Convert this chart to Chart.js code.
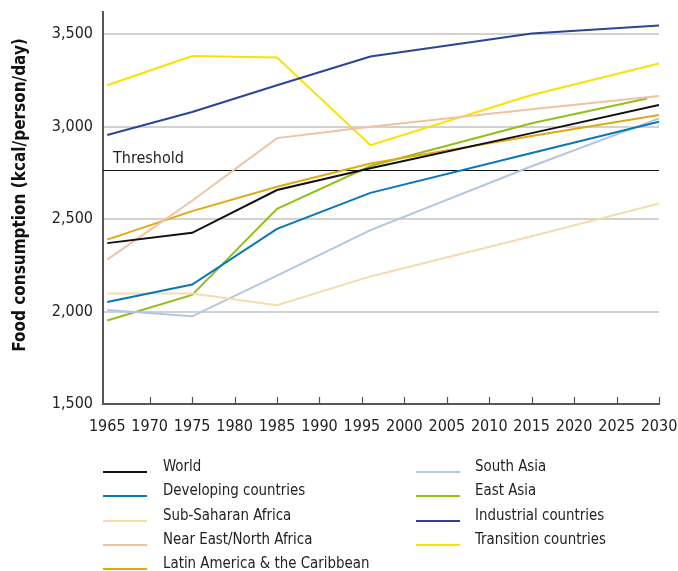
<!DOCTYPE html>
<html>
<head>
<meta charset="utf-8">
<script src="https://cdn.jsdelivr.net/npm/chart.js@4.4.0/dist/chart.umd.min.js"></script>
<style>
  body { margin: 0; background: #fff; font-family: "DejaVu Sans Condensed", "Roboto", sans-serif; }
  #wrap { position: relative; width: 678px; height: 571px; }
  #c { position: absolute; left: 0; top: 0; }
  #legend { position: absolute; left: 0; top: 0; width: 678px; height: 571px; }
  .item { position: absolute; font-size: 16px; color: #222; line-height: 20px; white-space: nowrap; transform: scaleX(0.93); transform-origin: left center; }
  .swatch { position: absolute; width: 44px; height: 0; border-top: 2px solid; }
</style>
</head>
<body>
<div id="wrap">
  <canvas id="c" width="678" height="445"></canvas>
  <div id="legend"></div>
</div>
<script>
var years = [1965, 1975, 1985, 1996, 2015, 2030];
var eastAsiaYears = [1965, 1975, 1985, 1996, 2015, 2028.6];
var xTicks = [1965, 1970, 1975, 1980, 1985, 1990, 1995, 2000, 2005, 2010, 2015, 2020, 2025, 2030];
var yTicks = [1500, 2000, 2500, 3000, 3500];
var threshold = 2765;

var world = [2370, 2426, 2657, 2775, 2965, 3117];
var developing = [2052, 2146, 2447, 2642, 2857, 3027];
var subSaharan = [2097, 2097, 2034, 2190, 2407, 2585];
var nearEast = [2281, 2599, 2938, 3000, 3094, 3166];
var latinAmerica = [2389, 2543, 2675, 2801, 2949, 3063];
var southAsia = [2009, 1974, 2194, 2440, 2786, 3045];
var eastAsia = [1952, 2090, 2556, 2787, 3018, 3152];
var industrial = [2955, 3079, 3224, 3379, 3504, 3547];
var transition = [3224, 3382, 3374, 2900, 3171, 3341];

var names = ["World", "Developing countries", "Sub-Saharan Africa", "Near East/North Africa",
  "Latin America & the Caribbean", "South Asia", "East Asia", "Industrial countries", "Transition countries"];
var colors = ["#111111", "#0a76b6", "#f6dcaa", "#efc2a2", "#e1a812", "#b2c6e4", "#93be1c", "#2b4593", "#f8e300"];
var values = [world, developing, subSaharan, nearEast, latinAmerica, southAsia, eastAsia, industrial, transition];
var xs = [years, years, years, years, years, years, eastAsiaYears, years, years];

var font = "'DejaVu Sans Condensed', Roboto, sans-serif";

function pts(xv, yv) {
  return yv.map(function (v, i) { return { x: xv[i], y: v }; });
}

var datasets = names.map(function (n, i) {
  return {
    label: n,
    data: pts(xs[i], values[i]),
    borderColor: colors[i],
    backgroundColor: colors[i],
    borderWidth: 2,
    pointRadius: 0,
    tension: 0
  };
});

// threshold line, y title and inward ticks on the x axis
var extras = {
  id: "extras",
  beforeDatasetsDraw: function (chart) {
    var ctx = chart.ctx, a = chart.chartArea, y = chart.scales.y.getPixelForValue(threshold);
    ctx.save();
    ctx.strokeStyle = "#111";
    ctx.lineWidth = 1;
    ctx.beginPath();
    ctx.moveTo(a.left, Math.round(y) + 0.5);
    ctx.lineTo(a.right, Math.round(y) + 0.5);
    ctx.stroke();
    ctx.fillStyle = "#222";
    ctx.font = "16px " + font;
    ctx.textBaseline = "bottom";
    ctx.fillText("Threshold", a.left + 10, y - 3);
    ctx.restore();
  },
  afterDraw: function (chart) {
    var ctx = chart.ctx, a = chart.chartArea, sx = chart.scales.x;
    ctx.save();
    ctx.strokeStyle = "#555";
    ctx.lineWidth = 1.2;
    xTicks.forEach(function (t) {
      if (t === 1965) return;
      var x = Math.round(sx.getPixelForValue(t)) + 0.5;
      ctx.beginPath();
      ctx.moveTo(x, a.bottom);
      ctx.lineTo(x, a.bottom - 7);
      ctx.stroke();
    });
    ctx.translate(21, 195);
    ctx.rotate(-Math.PI / 2);
    ctx.fillStyle = "#111";
    ctx.font = "bold 17px " + font;
    ctx.textAlign = "center";
    ctx.textBaseline = "middle";
    ctx.fillText("Food consumption (kcal/person/day)", 0, 0);
    ctx.restore();
  }
};

new Chart("c", {
  type: "line",
  data: { datasets: datasets },
  options: {
    responsive: false,
    animation: false,
    layout: { padding: { top: 12, right: 19, left: 0, bottom: 0 } },
    plugins: { legend: { display: false }, tooltip: { enabled: false } },
    scales: {
      x: {
        type: "linear",
        min: 1964.5,
        max: 2030,
        grid: { display: false },
        border: { color: "#555", width: 2 },
        afterBuildTicks: function (s) { s.ticks = xTicks.map(function (v) { return { value: v }; }); },
        afterFit: function (s) { s.height = 41; s.paddingLeft = 0; s.paddingRight = 0; },
        ticks: {
          autoSkip: false,
          maxRotation: 0,
          padding: 5,
          color: "#222",
          font: { family: font, size: 16 },
          callback: function (v) { return String(v); }
        }
      },
      y: {
        min: 1500,
        max: 3620,
        afterBuildTicks: function (s) { s.ticks = yTicks.map(function (v) { return { value: v }; }); },
        afterFit: function (s) { s.width = 103; s.paddingTop = 0; s.paddingBottom = 0; },
        border: { color: "#555", width: 2 },
        grid: {
          drawTicks: false,
          lineWidth: 2,
          color: function (c) { return c.tick && c.tick.value === 1500 ? "rgba(0,0,0,0)" : "#d2d2d2"; }
        },
        ticks: {
          padding: 10,
          color: "#222",
          font: { family: font, size: 16 },
          callback: function (v) { return v.toLocaleString("en-US"); }
        }
      }
    }
  },
  plugins: [extras]
});

// legend, two columns
var legend = document.getElementById("legend");
var col = [{ line: 103, text: 163 }, { line: 416, text: 475 }];
names.forEach(function (n, i) {
  var c = i < 5 ? 0 : 1, r = i < 5 ? i : i - 5;
  var yc = 466 + r * 24.3;
  var sw = document.createElement("div");
  sw.className = "swatch";
  sw.style.left = col[c].line + "px";
  sw.style.top = (yc + 5) + "px";
  sw.style.borderTopColor = colors[i];
  legend.appendChild(sw);
  var t = document.createElement("div");
  t.className = "item";
  t.style.left = col[c].text + "px";
  t.style.top = (yc - 10) + "px";
  t.textContent = n;
  legend.appendChild(t);
});
</script>
</body>
</html>
